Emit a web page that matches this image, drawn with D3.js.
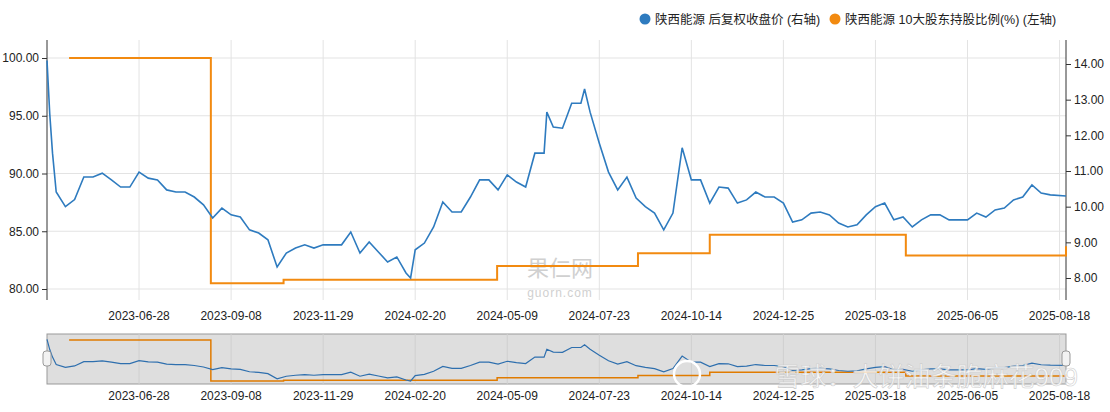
<!DOCTYPE html>
<html><head><meta charset="utf-8">
<script src="https://cdn.jsdelivr.net/npm/d3@7"></script>
<style>body{margin:0;background:#fff}text{font-family:Arial,"Liberation Sans","Noto Sans CJK SC",sans-serif}</style>
</head><body><svg id="c" width="1110" height="412"></svg>
<script>
const tickLabels=["2023-06-28","2023-09-08","2023-11-29","2024-02-20","2024-05-09","2024-07-23","2024-10-14","2024-12-25","2025-03-18","2025-06-05","2025-08-18"];
const tickIdx=[10,20,30,40,50,60,70,80,90,100,110];
const priceIdx=[0,0.3,0.6,1,2,3,4,5,6,7,8,9,10,11,12,13,14,15,16,17,18,19,20,21,22,23,24,25,26,27,28,29,30,31,32,33,34,35,36,37,38,39,39.5,40,41,42,43,44,45,46,47,48,49,50,51,52,53,54,54.3,55,56,57,58,58.4,59,60,61,62,63,64,65,66,67,68,69,70,71,72,73,74,75,76,77,78,79,80,81,82,83,84,85,86,87,88,89,90,91,92,93,94,95,96,97,98,99,100,101,102,103,104,105,106,107,108,109,110.7];
const priceVal=[14.1,12.6,11.5,10.41,10.0,10.2,10.83,10.83,10.94,10.75,10.55,10.55,10.97,10.8,10.75,10.47,10.41,10.41,10.27,10.05,9.68,9.96,9.77,9.71,9.35,9.26,9.07,8.31,8.7,8.84,8.93,8.84,8.93,8.93,8.93,9.29,8.7,9.01,8.73,8.45,8.59,8.14,8.0,8.79,8.98,9.43,10.13,9.85,9.85,10.27,10.75,10.75,10.47,10.89,10.69,10.55,11.5,11.5,12.65,12.23,12.2,12.9,12.9,13.3,12.65,11.78,10.97,10.47,10.83,10.24,10.0,9.82,9.35,9.82,11.65,10.75,10.75,10.1,10.55,10.52,10.1,10.19,10.41,10.27,10.27,10.1,9.57,9.63,9.82,9.85,9.77,9.54,9.43,9.49,9.77,10.0,10.1,9.63,9.71,9.43,9.63,9.77,9.77,9.63,9.63,9.63,9.82,9.71,9.91,9.96,10.19,10.27,10.61,10.38,10.33,10.3];
const holdIdx=[2.4,17.8,25.7,48.9,64.2,72,93.3,110.4,110.7];
const holdVal=[100.0,80.5,80.8,82.0,83.1,84.7,82.9,82.9,83.7];
const leftTicks=[80,85,90,95,100];
const rightTicks=[8,9,10,11,12,13,14];
const series=["陕西能源 后复权收盘价 (右轴)","陕西能源 10大股东持股比例(%) (左轴)"];
const blue="#2e7bbf",orange="#f28a10";

const svg=d3.select("#c");
const x=d3.scaleLinear().domain([0,110.7]).range([47,1066]);
const yL=d3.scaleLinear().domain([80,100]).range([289,58]);
const yR=d3.scaleLinear().domain([8,14]).range([278,64]);
const P=priceIdx.map((d,i)=>[d,priceVal[i]]);
const H=holdIdx.map((d,i)=>[d,holdVal[i]]);

// grid
svg.append("g").selectAll("line").data(leftTicks).join("line")
 .attr("x1",47).attr("x2",1066).attr("y1",d=>yL(d)).attr("y2",d=>yL(d)).attr("stroke","#e3e3e3");
svg.append("g").selectAll("line").data(tickIdx).join("line")
 .attr("x1",d=>x(d)).attr("x2",d=>x(d)).attr("y1",40).attr("y2",300).attr("stroke","#e3e3e3");

// watermark
svg.append("text").attr("x",560).attr("y",276).attr("text-anchor","middle").attr("font-size",22).attr("fill","#d0d0d0").text("果仁网");
svg.append("text").attr("x",560).attr("y",297).attr("text-anchor","middle").attr("font-size",12).attr("fill","#d0d0d0").attr("letter-spacing",1).text("guorn.com");

// axes
const ga=svg.append("g").attr("transform","translate(47,0)").call(d3.axisLeft(yL).tickValues(leftTicks).tickFormat(d3.format(".2f")).tickSize(5));
const gb=svg.append("g").attr("transform","translate(1066,0)").call(d3.axisRight(yR).tickValues(rightTicks).tickFormat(d3.format(".2f")).tickSize(5));
[ga,gb].forEach(g=>{g.select(".domain").attr("stroke","#333").attr("d",g===ga?"M-0,40V300":"M0,40V300");g.selectAll("text").attr("font-size",12).attr("fill","#222");g.selectAll(".tick line").attr("stroke","#333")});
svg.append("g").selectAll("text").data(tickIdx).join("text").attr("x",d=>x(d)).attr("y",320).attr("text-anchor","middle").attr("font-size",12).attr("fill","#222").text((d,i)=>tickLabels[i]);

svg.append("path").datum(H).attr("fill","none").attr("stroke",orange).attr("stroke-width",2)
 .attr("d",d3.line().x(d=>x(d[0])).y(d=>yL(d[1])).curve(d3.curveStepAfter));
svg.append("path").datum(P).attr("fill","none").attr("stroke",blue).attr("stroke-width",1.6)
 .attr("d",d3.line().x(d=>x(d[0])).y(d=>yR(d[1])));

// legend
const lg=[[645,series[0],blue],[835,series[1],orange]];
lg.forEach(([lx,t,c])=>{svg.append("circle").attr("cx",lx).attr("cy",19).attr("r",5.5).attr("fill",c);
 svg.append("text").attr("x",lx+10).attr("y",24).attr("font-size",12.5).attr("fill","#222").text(t);});

// navigator
svg.append("rect").attr("x",47).attr("y",334).attr("width",1019).attr("height",50).attr("fill","#dedede").attr("stroke","#999");
const myL=d3.scaleLinear().domain([80,100]).range([382,340]);
const myR=d3.scaleLinear().domain([8,14]).range([381,340]);
svg.append("g").selectAll("line").data(tickIdx).join("line").attr("x1",d=>x(d)).attr("x2",d=>x(d)).attr("y1",334).attr("y2",384).attr("stroke","#cfcfcf");
svg.append("path").datum(H).attr("fill","none").attr("stroke","#e07b00").attr("stroke-width",1.5)
 .attr("d",d3.line().x(d=>x(d[0])).y(d=>myL(d[1])).curve(d3.curveStepAfter));
svg.append("path").datum(P).attr("fill","none").attr("stroke","#2e6fae").attr("stroke-width",1.2)
 .attr("d",d3.line().x(d=>x(d[0])).y(d=>myR(d[1])));
[47,1066].forEach(hx=>svg.append("rect").attr("x",hx-4).attr("y",351).attr("width",8).attr("height",15).attr("rx",3).attr("fill","#f2f2f2").attr("stroke","#999"));
svg.append("g").selectAll("text").data(tickIdx).join("text").attr("x",d=>x(d)).attr("y",400).attr("text-anchor","middle").attr("font-size",12).attr("fill","#222").text((d,i)=>tickLabels[i]);
svg.append("text").attr("x",1078).attr("y",386).attr("text-anchor","end").attr("font-size",26).attr("fill","#fff").attr("fill-opacity",0.8).attr("stroke","#ccc").attr("stroke-width",0.6).text("雪球：大饼油条脆麻花909");
svg.append("circle").attr("cx",687).attr("cy",374).attr("r",13).attr("fill","none").attr("stroke","#fff").attr("stroke-width",2.5);
</script></body></html>
